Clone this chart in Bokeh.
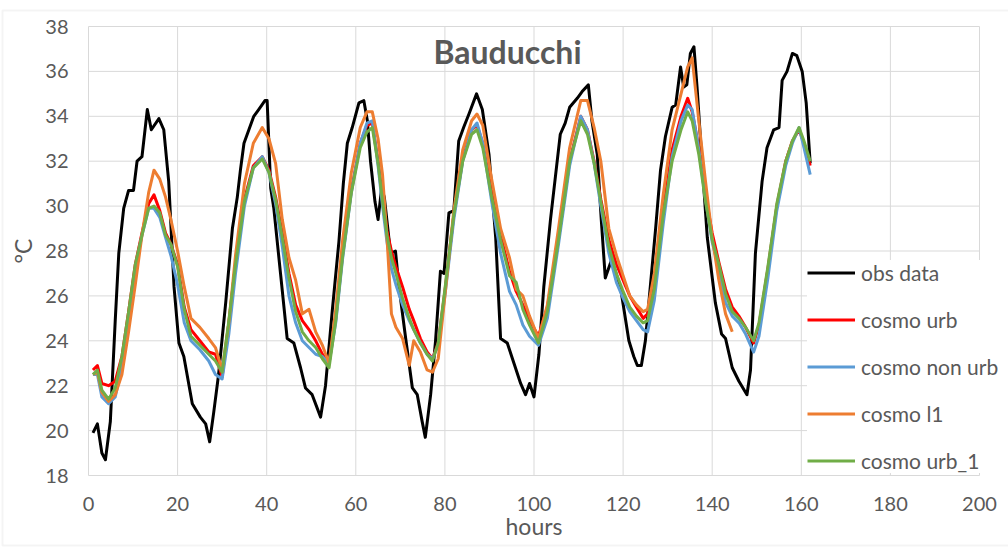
from math import pi
from bokeh.plotting import figure
from bokeh.models import Range1d, Legend, LegendItem, Label, BoxAnnotation
from bokeh.core.properties import value
from bokeh.embed import file_html
from bokeh.resources import INLINE

# ---------------- data ----------------
obs_h = [1, 2, 3, 3.8, 4.9, 6, 6.8, 7.9, 9, 10.1, 10.9, 12, 13.2, 14.1, 15.8, 16.9,
         18, 19.2, 20.3, 21.4, 23.3, 25.1, 26.3, 27.2, 28.1, 29.2, 30.8, 32.3, 33.4,
         34.1, 34.9, 36, 37.1, 38.2, 39.6, 40.1, 40.9, 41.6, 43.1, 44.6, 46.1, 47.6,
         48.7, 50.2, 52.1, 53.2, 54.7, 56.2, 57.2, 58.1, 59.2, 60.7, 61.8, 62.6, 63.3,
         64.3, 65.0, 65.8, 66.4, 67.8, 68.9, 69.7, 71.2, 72.7, 73.8, 74.9, 75.6, 76.8,
         77.9, 79.0, 79.8, 80.9, 82.0, 83.1, 84.2, 85.4, 87.1, 88.4, 89.9, 91.4, 92.5,
         94.0, 95.5, 97.0, 98.1, 99.0, 100.0, 101.1, 102.2, 103.7, 104.8, 105.9, 107.0,
         108.0, 109.7, 110.8, 112.2, 113.0, 114.2, 115.1, 116.0, 117.4, 119.4, 121.3,
         122.4, 123.2, 124.1, 125.0, 126.1, 127.3, 128.4, 129.5, 131.0, 131.8, 132.9,
         133.6, 134.3, 135.1, 135.9, 136.6, 137.7, 138.9, 140.7, 142.1, 143.0, 144.5,
         146.0, 147.8, 148.6, 149.7, 151.2, 152.3, 153.8, 155.0, 155.7, 156.8, 158.0,
         159.0, 160.2, 161.1, 162.0]
obs_t = [19.9, 20.3, 19.0, 18.7, 20.4, 24.9, 27.9, 29.9, 30.7, 30.7, 32.0, 32.2, 34.3, 33.4, 33.9, 33.4,
         31.1, 26.4, 23.9, 23.3, 21.2, 20.6, 20.3, 19.5, 20.8, 22.5, 25.7, 29.0, 30.4,
         31.6, 32.8, 33.4, 34.0, 34.3, 34.7, 34.7, 30.8, 29.9, 27.0, 24.1, 23.9, 22.8,
         21.9, 21.6, 20.6, 22.0, 25.3, 28.4, 31.0, 32.8, 33.5, 34.6, 34.7, 33.8, 32.0,
         30.2, 29.4, 30.8, 30.4, 27.9, 28.0, 26.4, 24.1, 21.9, 21.6, 20.4, 19.7, 21.6,
         24.0, 27.1, 27.0, 29.7, 29.8, 32.9, 33.5, 34.1, 35.0, 34.3, 32.3, 28.6, 24.1,
         23.9, 23.0, 22.1, 21.6, 22.1, 21.5, 23.4, 26.4, 29.4, 31.3, 33.2, 33.7,
         34.4, 34.8, 35.1, 35.4, 33.8, 32.3, 29.4, 26.8, 27.6, 26.4, 24.0,
         23.3, 22.9, 22.9, 24.0, 26.4, 29.0, 31.6, 33.1, 34.4, 34.5, 36.2,
         35.3, 35.4, 36.8, 37.1, 35.3, 32.0, 28.6, 25.7, 24.3, 24.1, 22.8,
         22.2, 21.6, 22.7, 27.9, 31.1, 32.6, 33.4, 33.5, 35.6, 36.0, 36.8,
         36.7, 36.0, 34.6, 31.9]

model_h = [1, 2, 3, 4.5, 6, 7.5, 9, 10.5, 12, 13.5, 14.7, 16, 17.3, 18.5, 20, 21.5, 23, 25, 27, 28.5,
           30, 31.5, 33, 35, 37, 39, 40.5, 42, 43.5, 45, 46.5, 48, 49.5, 51, 52.5, 54,
           55.5, 57, 59, 61, 62.5, 63.7, 65, 66, 67, 68, 69, 70.5, 72, 73, 74.5, 76, 77.2,
           78.5, 80, 82, 84, 86, 87.2, 88.5, 90.5, 92.5, 94.5, 96, 97.5, 99, 101,
           103, 105.5, 108, 110.5, 112, 113.5, 115, 116.8, 118.5, 120, 121.5, 123, 124.5, 125.5,
           127, 129, 131, 133, 134.5, 135.5, 137, 138.5, 140, 141.5, 143, 144.5, 146, 147.5, 149.3,
           150.5, 152.5, 154.5, 156.5, 158, 159.5, 160.6, 162]

cosmo_urb = [22.7, 22.9, 22.1, 22.0, 22.2, 23.3, 25.3, 27.4, 28.8, 30.1, 30.5, 29.8, 28.8, 28.3, 27.4, 25.5, 24.5, 24.0, 23.5, 23.4,
             22.4, 24.8, 27.4, 30.3, 31.8, 32.2, 31.6, 30.4, 28.8, 27.0, 25.6, 24.9, 24.5, 24.0, 23.4, 23.0,
             25.0, 27.8, 30.7, 32.8, 33.6, 33.7, 32.0, 30.4, 28.9, 28.0, 27.3, 26.4, 25.4, 24.9, 24.1, 23.5, 23.2,
             23.9, 26.2, 29.6, 32.1, 33.4, 33.6, 32.8, 30.6, 28.7, 27.1, 26.2, 25.6, 24.9, 24.2,
             25.5, 28.6, 32.0, 34.0, 33.4, 32.0, 30.3, 28.5, 27.4, 26.7, 26.0, 25.5, 25.0, 25.2,
             26.5, 29.8, 32.5, 34.0, 34.8, 34.2, 32.6, 30.5, 28.8, 27.5, 26.3, 25.5, 25.1, 24.6, 23.9,
             24.7, 27.2, 30.0, 32.0, 32.9, 33.4, 32.8, 31.8]

cosmo_non_urb = [22.5, 22.5, 21.5, 21.2, 21.5, 22.8, 25.0, 27.2, 28.7, 29.9, 29.9, 29.5, 28.6, 27.8, 26.5, 24.8, 24.0, 23.6, 23.1, 22.5,
                 22.3, 24.3, 27.0, 30.0, 31.7, 32.2, 31.5, 30.1, 28.2, 26.0, 24.8, 24.0, 23.7, 23.4, 23.3, 23.0,
                 24.8, 27.6, 30.6, 32.8, 33.7, 33.8, 31.8, 30.0, 28.4, 27.2, 26.5, 25.6, 24.9, 24.5, 23.9, 23.4, 23.2,
                 23.8, 26.0, 29.4, 32.0, 33.4, 33.7, 32.8, 30.2, 27.9, 26.2, 25.6, 24.7, 24.2, 23.8,
                 25.0, 28.3, 31.8, 34.0, 33.4, 31.9, 30.0, 27.9, 26.6, 25.9, 25.3, 24.9, 24.5, 24.4,
                 25.8, 29.2, 32.2, 33.8, 34.5, 34.3, 32.5, 30.3, 28.4, 27.2, 25.7, 25.1, 24.8, 24.3, 23.5,
                 24.2, 26.8, 29.8, 31.8, 32.8, 33.5, 32.6, 31.4]

cosmo_l1 = [22.5, 22.6, 21.7, 21.3, 21.6, 22.5, 24.4, 26.5, 28.7, 30.6, 31.6, 31.2, 30.4, 29.4, 28.0, 26.4, 25.0, 24.6, 24.1, 23.7,
            22.7, 24.8, 27.8, 31.0, 32.8, 33.5, 33.0, 31.9, 29.4, 27.7, 26.7, 25.2, 25.4, 24.4, 23.8, 23.0,
            25.4, 28.4, 31.5, 33.5, 34.2, 34.2, 33.0, 31.4, 28.6, 25.2, 24.6, 24.1, 22.9, 24.0, 23.5, 22.7, 22.6,
            23.2, 26.0, 29.8, 32.5, 33.8, 34.1, 33.6, 31.2, 29.0, 27.7, 26.3, 26.0, 25.1, 24.1,
            25.6, 29.0, 32.6, 34.7, 34.7, 33.5, 32.0, 29.0, 27.8, 26.9, 26.0, 25.6, 25.3, 25.4,
            27.0, 30.5, 33.4, 35.0, 36.2, 36.6, 33.8, 31.1, 28.6, 26.7, 25.2, 24.4]

cosmo_urb_1 = [22.5, 22.7, 21.8, 21.4, 21.9, 23.3, 25.3, 27.4, 28.7, 29.9, 30.0, 29.7, 28.7, 28.3, 27.3, 25.4, 24.2, 23.8, 23.4, 23.1,
               22.6, 24.9, 27.4, 30.2, 31.7, 32.1, 31.5, 30.3, 28.6, 26.8, 25.3, 24.4, 24.0, 23.7, 23.2, 22.8,
               24.9, 27.7, 30.6, 32.6, 33.3, 33.5, 31.9, 30.2, 28.7, 27.7, 27.0, 25.9, 25.0, 24.5, 23.9, 23.4, 23.1,
               23.9, 26.3, 29.6, 32.0, 33.2, 33.4, 32.6, 30.4, 28.5, 26.9, 26.6, 25.4, 24.7, 23.9,
               25.3, 28.5, 32.0, 33.8, 33.2, 31.9, 30.2, 28.2, 27.0, 26.2, 25.5, 25.1, 24.8, 24.9,
               26.3, 29.6, 32.0, 33.4, 34.2, 33.8, 32.3, 30.2, 28.5, 27.4, 26.1, 25.3, 25.0, 24.6, 24.0,
               24.8, 27.3, 30.1, 32.0, 32.9, 33.5, 32.9, 32.0]

series_names = ["obs data", "cosmo urb", "cosmo non urb", "cosmo l1", "cosmo urb_1"]
series_colors = ["#000000", "#FF0000", "#5B9BD5", "#ED7D31", "#70AD47"]
x_ticks = [0, 20, 40, 60, 80, 100, 120, 140, 160, 180, 200]
x_tick_labels = ["0", "20", "40", "60", "80", "100", "120", "140", "160", "180", "200"]
y_ticks = [18, 20, 22, 24, 26, 28, 30, 32, 34, 36, 38]
y_tick_labels = ["18", "20", "22", "24", "26", "28", "30", "32", "34", "36", "38"]
title_text = "Bauducchi"
x_label = "hours"
y_label = "°C"

# ---------------- layout (pixels) ----------------
W, H = 1008, 549
FL, FR, FT, FB = 88, 979, 26, 475          # where the data box sits on the canvas
XMIN, XMAX, YMIN, YMAX = 0, 200, 18, 38
SX = (FR - FL) / (XMAX - XMIN)
SY = (FB - FT) / (YMAX - YMIN)


def X(px):
    return XMIN + (px - FL) / SX


def Y(py):
    return YMIN + (FB - py) / SY


FONT = "Lato"
GREY = "#595959"
GRID = "#d9d9d9"

p = figure(width=W, height=H, output_backend="svg", toolbar_location=None,
           x_range=Range1d(X(0), X(W)), y_range=Range1d(Y(H), Y(0)),
           x_axis_location=None, y_axis_location=None, min_border=0)
p.background_fill_color = "white"
p.border_fill_color = "white"
p.outline_line_color = None
p.grid.visible = False

# grid lines (from the tick arrays)
p.segment(x0=x_ticks, x1=x_ticks, y0=[YMIN] * len(x_ticks), y1=[YMAX] * len(x_ticks),
          line_color=GRID, line_width=1)
p.segment(x0=[XMIN] * len(y_ticks), x1=[XMAX] * len(y_ticks), y0=y_ticks, y1=y_ticks,
          line_color=GRID, line_width=1)

# tick labels
p.text(x=x_ticks, y=[Y(503)] * len(x_ticks), text=x_tick_labels, text_align="center",
       text_baseline="alphabetic", text_font=value(FONT), text_font_size="20px",
       text_color=GREY)
p.text(x=[X(68)] * len(y_ticks), y=y_ticks, text=y_tick_labels, text_align="right",
       text_baseline="middle", text_font=value(FONT), text_font_size="20px",
       text_color=GREY)

# axis titles
p.add_layout(Label(x=(XMIN + XMAX) / 2, y=Y(525), text=x_label, text_align="center",
                   text_baseline="alphabetic", text_font=FONT, text_font_size="23px",
                   text_color=GREY))
p.add_layout(Label(x=X(22), y=(YMIN + YMAX) / 2, text=y_label, angle=pi / 2,
                   text_align="center", text_baseline="middle", text_font=FONT,
                   text_font_size="23px", text_color=GREY))

# series
xs = [obs_h, model_h, model_h, model_h[:len(cosmo_l1)], model_h]
ys = [obs_t, cosmo_urb, cosmo_non_urb, cosmo_l1, cosmo_urb_1]
items = []
for name, color, x, y in zip(series_names, series_colors, xs, ys):
    r = p.line(x, y, line_color=color, line_width=3, line_join="round")
    items.append(LegendItem(label=name, renderers=[r]))

legend = Legend(items=items, location=(807, 76), orientation="vertical",
                background_fill_color="white", background_fill_alpha=1.0,
                border_line_color=None, padding=13, margin=0,
                glyph_width=48, glyph_height=25, label_height=25,
                label_standoff=6, spacing=22,
                label_text_font=FONT, label_text_font_size="21px",
                label_text_color=GREY)
p.add_layout(legend, "center")

# chart title
p.add_layout(Label(x=X(507), y=Y(51), text=title_text, text_align="center",
                   text_baseline="alphabetic", text_font=FONT, text_font_size="32px",
                   text_font_style="bold", text_color=GREY))

# chart-area border
p.add_layout(BoxAnnotation(left=X(2), right=X(1012), bottom=Y(545), top=Y(10),
                           fill_alpha=0, line_color=GRID, line_width=2))

open("out.html", "w").write(file_html(p, INLINE))
